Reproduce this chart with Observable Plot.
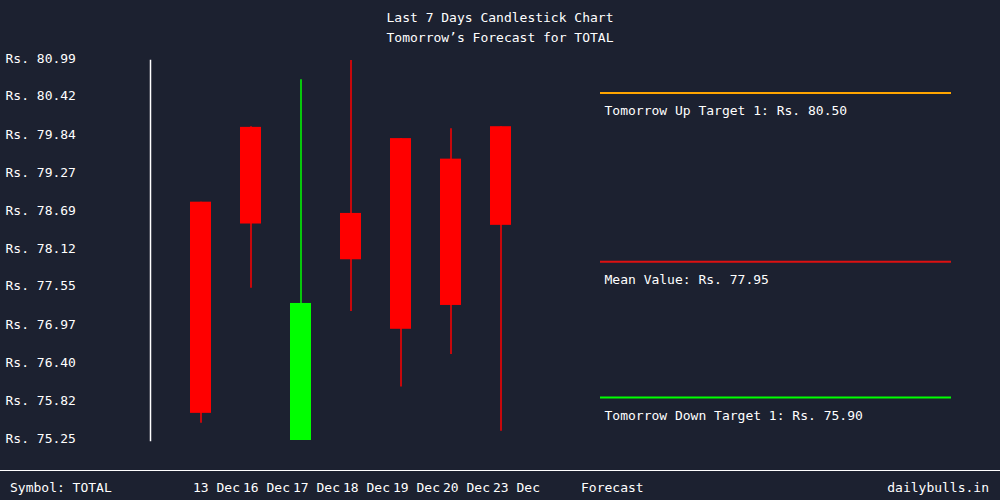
<!DOCTYPE html>
<html><head><meta charset="utf-8">
<script src="https://cdn.jsdelivr.net/npm/d3@7"></script>
<script src="https://cdn.jsdelivr.net/npm/@observablehq/plot@0.6"></script>
<style>
html,body{margin:0;padding:0;background:#1c2130;}
#wrap{position:relative;width:1000px;height:500px;background:#1c2130;font-family:"DejaVu Sans Mono",monospace;font-size:13px;color:#fff;overflow:hidden}
#wrap svg{position:absolute;left:0;top:0;}
.t{position:absolute;white-space:pre;line-height:16px}
#footline{position:absolute;left:0;top:470px;width:1000px;height:1px;background:#fff}
</style></head><body><div id="wrap"></div>
<script>
const dates = ["13 Dec","16 Dec","17 Dec","18 Dec","19 Dec","20 Dec","23 Dec"];
const opens = [78.85,79.98,75.25,78.68,79.81,79.50,79.99];
const closes = [75.66,78.52,77.32,77.98,76.93,77.29,78.50];
const highs = [78.85,79.99,80.70,80.99,79.81,79.96,79.99];
const lows = [75.51,77.55,75.25,77.20,76.06,76.55,75.39];
const yTicks = [80.99,80.42,79.84,79.27,78.69,78.12,77.55,76.97,76.40,75.82,75.25];
const targetLabels = ["Tomorrow Up Target 1","Mean Value","Tomorrow Down Target 1"];
const targetValues = [80.50,77.95,75.90];
const targetColors = ["#ffa500","#dd1111","#00ff00"];
const titleText = "Last 7 Days Candlestick Chart";
const subtitleText = "Tomorrow’s Forecast for TOTAL";
const symbolText = "Symbol: TOTAL";
const forecastText = "Forecast";
const siteText = "dailybulls.in";

const candles = dates.map((d,i)=>({date:d, open:opens[i], close:closes[i], high:highs[i], low:lows[i], dir: closes[i]>=opens[i]?"up":"down"}));
const targets = targetLabels.map((l,i)=>({label:l, value:targetValues[i], color:targetColors[i]}));
const yDomain = [d3.min(yTicks), d3.max(yTicks)];
const font = {background:"transparent", color:"#fff", fontFamily:"DejaVu Sans Mono, monospace", fontSize:"13px"};

const main = Plot.plot({
  width:1000, height:500, marginTop:60, marginBottom:60, marginLeft:175, marginRight:475,
  style:font,
  x:{type:"band", domain:dates, paddingInner:0.58, paddingOuter:0.29},
  y:{domain:yDomain},
  color:{domain:["up","down"], range:["#00ff00","#ff0000"]},
  marks:[
    Plot.frame({anchor:"left", stroke:"#fff", strokeWidth:1.5, dx:-25}),
    Plot.axisY(yTicks,{anchor:"left", tickSize:0, tickPadding:0, textAnchor:"start", dx:-170, dy:-2, tickFormat:d=>"Rs. "+d.toFixed(2), fill:"#fff", label:null}),
    Plot.axisX({anchor:"bottom", tickSize:0, tickPadding:42, textAnchor:"start", dx:-8, fill:"#fff", label:null}),
    Plot.ruleX(candles,{x:"date", y1:"low", y2:"high", stroke:"dir", strokeWidth:1.5}),
    Plot.barY(candles,{x:"date", y1:"open", y2:"close", fill:"dir"})
  ]
});

const fc = Plot.plot({
  width:1000, height:500, marginTop:60, marginBottom:60, marginLeft:600, marginRight:49,
  style:font,
  y:{domain:yDomain, axis:null},
  color:{type:"identity"},
  marks:[
    Plot.ruleY(targets,{y:"value", stroke:"color", strokeWidth:2}),
    Plot.text(targets,{y:"value", frameAnchor:"left", textAnchor:"start", dx:4, dy:18, fill:"#fff",
      text:d=>`${d.label}: Rs. ${d.value.toFixed(2)}`})
  ]
});

const wrap = document.getElementById("wrap");
wrap.appendChild(main);
wrap.appendChild(fc);
function addText(txt, css){const e=document.createElement("div");e.className="t";e.textContent=txt;Object.assign(e.style,css);wrap.appendChild(e);}
addText(titleText,{left:"0",width:"1000px",textAlign:"center",top:"10px"});
addText(subtitleText,{left:"0",width:"1000px",textAlign:"center",top:"30px"});
const fl=document.createElement("div");fl.id="footline";wrap.appendChild(fl);
addText(symbolText,{left:"10px",top:"480px"});
addText(forecastText,{left:"581px",top:"480px"});
addText(siteText,{right:"11px",top:"480px"});
</script></body></html>
